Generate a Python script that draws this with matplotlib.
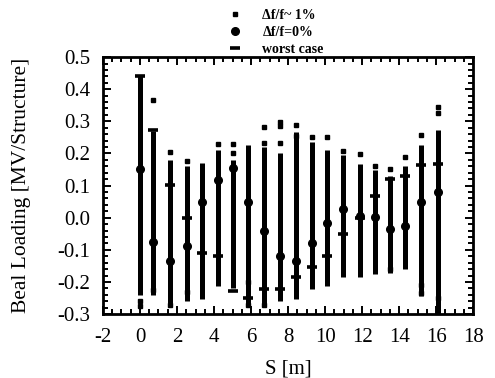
import numpy as np
import matplotlib
matplotlib.use("Agg")
import matplotlib.pyplot as plt
from matplotlib.ticker import MultipleLocator, FormatStrFormatter
from matplotlib.lines import Line2D

# Station positions along the structure [m]
s_pos = [0.0, 0.72, 1.62, 2.52, 3.33, 4.19, 5.0, 5.84, 6.70, 7.55,
         8.41, 9.29, 10.10, 10.96, 11.86, 12.67, 13.48, 14.32, 15.19, 16.08]

# Dense band of df/f ~ 1% results (lowest / highest of the packed points)
band_lo = [-0.24, -0.24, -0.265, -0.26, -0.254, -0.212, -0.218, -0.27, -0.27, -0.259,
           -0.254, -0.223, -0.212, -0.186, -0.186, -0.176, -0.171, -0.16, -0.244, -0.30]
band_hi = [0.44, 0.27, 0.18, 0.16, 0.17, 0.21, 0.18, 0.225, 0.22, 0.20,
           0.267, 0.235, 0.21, 0.194, 0.168, 0.147, 0.131, 0.162, 0.225, 0.272]

# Isolated df/f ~ 1% points away from the band
sq_s = [0.0, 0.0, 0.72, 0.72, 1.62, 1.62, 2.52, 2.52, 4.19, 5.0, 5.0,
        5.84, 5.84, 6.70, 6.70, 6.70, 7.55, 7.55, 7.55, 8.41, 8.41,
        9.29, 10.10, 10.96, 11.86, 12.67, 13.48, 13.48, 14.32,
        15.19, 15.19, 15.19, 16.08, 16.08, 16.08]
sq_v = [-0.26, -0.275, 0.366, -0.225, 0.204, -0.272, 0.178, -0.232, 0.23, 0.228, 0.20,
        -0.20, -0.272, 0.282, 0.232, -0.272, 0.298, 0.285, 0.232, 0.288, 0.255,
        0.25, 0.25, 0.209, 0.199, 0.16, 0.152, -0.16, 0.189,
        0.256, -0.21, -0.235, 0.345, 0.325, -0.25]

# df/f = 0% values
zero_v = [0.153, -0.077, -0.134, -0.088, 0.048, 0.116, 0.154, 0.048, -0.04, -0.119,
          -0.134, -0.08, -0.015, 0.027, 0.005, 0.001, -0.035, -0.025, 0.048, 0.079]

# worst case values
worst_v = [0.44, 0.272, 0.102, -0.002, -0.111, -0.119, -0.229, -0.25, -0.223, -0.223,
           -0.186, -0.152, -0.119, -0.051, 0.0, 0.069, 0.121, 0.13, 0.163, 0.168]

plt.rcParams['font.family'] = ['Liberation Serif', 'DejaVu Serif']
plt.rcParams['axes.unicode_minus'] = False

fig = plt.figure(figsize=(4.95, 3.78), dpi=100)
ax = fig.add_axes([0.208, 0.169, 0.748, 0.680])

ax.vlines(s_pos, band_lo, band_hi, colors='black', linewidth=3.6, zorder=2)
ax.plot(sq_s, sq_v, 's', color='black', ms=2.6, zorder=3)
ax.plot(s_pos, zero_v, 'o', color='black', ms=5.5, zorder=4)
ax.plot(s_pos, worst_v, '_', color='black', ms=7, mew=2.6, zorder=5)

ax.set_xlim(-2, 18)
ax.set_ylim(-0.3, 0.5)
ax.xaxis.set_major_locator(MultipleLocator(2))
ax.xaxis.set_minor_locator(MultipleLocator(0.5))
ax.yaxis.set_major_locator(MultipleLocator(0.1))
ax.yaxis.set_minor_locator(MultipleLocator(0.02))
ax.yaxis.set_major_formatter(FormatStrFormatter('%.1f'))
ax.tick_params(which='both', direction='in', top=True, right=True, width=1.4)
ax.tick_params(which='major', length=6, labelsize=15, pad=10)
ax.tick_params(axis='y', which='major', pad=9)
ax.tick_params(which='minor', length=3.5)
for sp in ax.spines.values():
    sp.set_linewidth(2)

ax.set_xlabel('S [m]', fontsize=15, labelpad=9)
ax.set_ylabel('Beal Loading [MV/Structure]', fontsize=15.5, labelpad=19)

handles = [Line2D([], [], ls='none', marker='s', color='black', ms=3),
           Line2D([], [], ls='none', marker='o', color='black', ms=5.5),
           Line2D([], [], ls='none', marker='_', color='black', ms=7, mew=2.6)]
labels = ['Δf/f~ 1%', 'Δf/f=0%', 'worst case']
fig.legend(handles, labels, loc='upper left', bbox_to_anchor=(0.432, 1.01),
           frameon=False, handlelength=1.2, handletextpad=1.4, labelspacing=0.3,
           prop={'family': ['Liberation Serif', 'DejaVu Serif'], 'weight': 'bold', 'size': 10})

fig.savefig('out.png', dpi=100)
